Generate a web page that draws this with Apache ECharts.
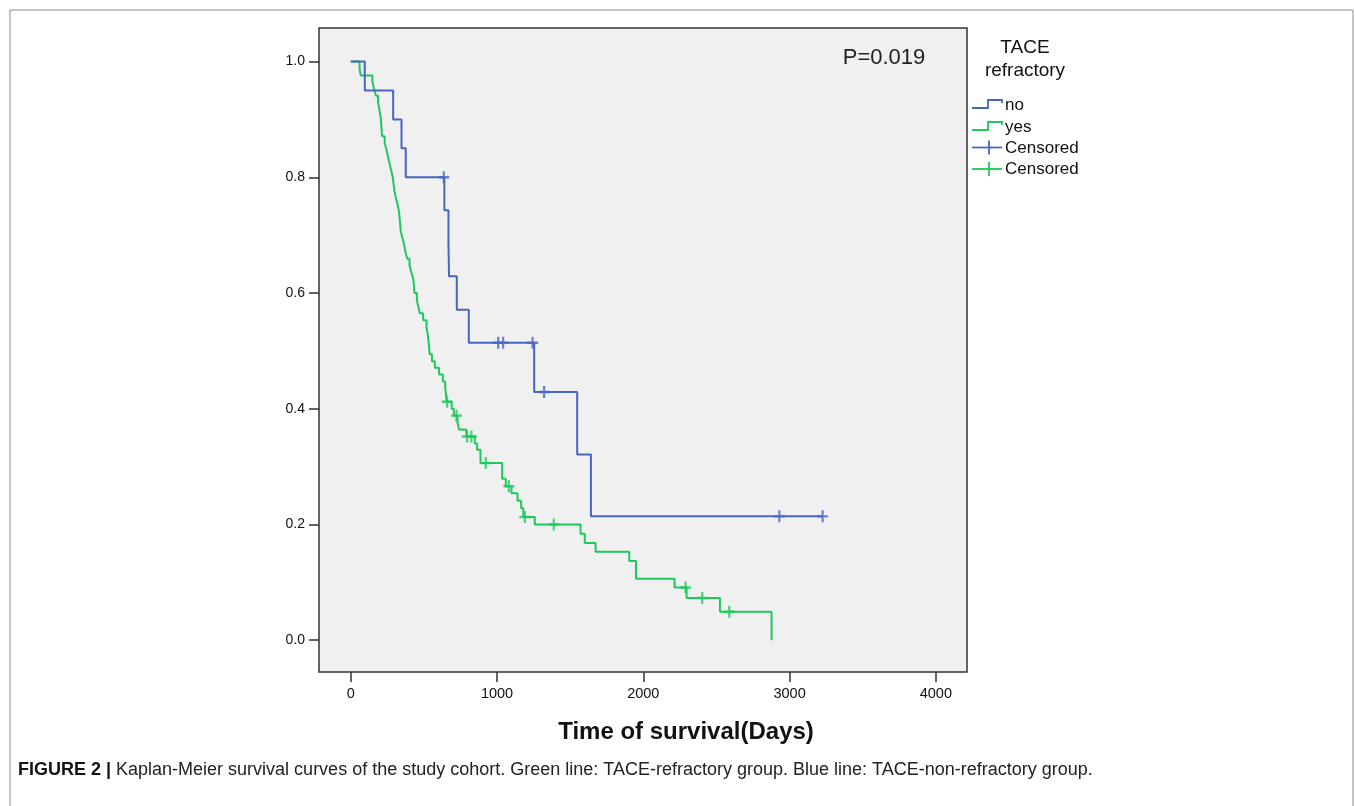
<!DOCTYPE html>
<html>
<head>
<meta charset="utf-8">
<title>Kaplan-Meier survival curves</title>
<script src="https://cdn.jsdelivr.net/npm/echarts@6.0.0/dist/echarts.min.js"></script>
<style>
  html, body { margin: 0; padding: 0; background: #fff; }
  #chart-container { width: 1355px; height: 806px; }
</style>
</head>
<body>
<div id="chart-container"></div>
<script>
// TACE non-refractory (blue) — days / cumulative survival
const blueTime = [0, 96, 290, 347, 376, 640, 668, 672, 725, 807, 1254, 1548, 1642, 3226];
const blueSurv = [1.0, 0.95, 0.90, 0.85, 0.80, 0.743, 0.686, 0.629, 0.571, 0.514, 0.429, 0.321, 0.214, 0.214];
const blueCensTime = [636, 1008, 1042, 1243, 1322, 2930, 3226];
const blueCensSurv = [0.80, 0.514, 0.514, 0.514, 0.429, 0.214, 0.214];

// TACE refractory (green)
const greenTime = [0, 60, 68, 148, 159, 172, 187, 195, 203, 208, 211, 214, 232, 245, 255, 265, 276, 287,
  293, 299, 308, 320, 330, 334, 338, 342, 355, 366, 374, 386, 402, 415, 428, 432, 436, 452, 462, 472,
  495, 518, 526, 531, 536, 540, 555, 575, 604, 630, 646, 651, 656, 690, 705, 730, 740, 790, 848, 864,
  887, 1035, 1060, 1099, 1140, 1165, 1180, 1258, 1571, 1600, 1674, 1904, 1950, 2214, 2296, 2524, 2877];
const greenSurv = [1.0, 0.988, 0.976, 0.965, 0.953, 0.941, 0.929, 0.918, 0.906, 0.894, 0.882, 0.871, 0.859,
  0.847, 0.835, 0.824, 0.812, 0.800, 0.788, 0.776, 0.765, 0.753, 0.741, 0.729, 0.718, 0.706, 0.694, 0.682,
  0.671, 0.659, 0.647, 0.635, 0.624, 0.612, 0.600, 0.588, 0.576, 0.565, 0.553, 0.541, 0.529, 0.518, 0.506,
  0.494, 0.482, 0.471, 0.459, 0.447, 0.435, 0.424, 0.412, 0.400, 0.388, 0.376, 0.364, 0.352, 0.340, 0.329,
  0.306, 0.279, 0.266, 0.254, 0.241, 0.228, 0.213, 0.200, 0.184, 0.168, 0.153, 0.137, 0.106, 0.091, 0.073,
  0.049, 0.0];
const greenCensTime = [659, 723, 796, 825, 923, 1081, 1190, 1388, 2289, 2403, 2588];
const greenCensSurv = [0.412, 0.388, 0.352, 0.352, 0.306, 0.266, 0.213, 0.200, 0.091, 0.073, 0.049];

const xTicks = [0, 1000, 2000, 3000, 4000];
const yTicks = [0, 0.2, 0.4, 0.6, 0.8, 1.0];

const BLUE = "#4766c4";
const GREEN = "#1ec85c";
const FONT = '"Liberation Sans", Arial, sans-serif';
const PLUS = "path://M4,0 h2 v4 h4 v2 h-4 v4 h-2 v-4 h-4 v-2 h4 z";

const zip = (a, b) => a.map((v, i) => [v, b[i]]);

const dom = document.getElementById("chart-container");
const myChart = echarts.init(dom, null, { renderer: "canvas" });

// legend drawn by hand, SPSS style
const stepIcon = (y, color) => ({
  type: "polyline",
  shape: { points: [[972, y + 4], [988, y + 4], [988, y - 4], [1002, y - 4], [1002, y - 1]] },
  style: { stroke: color, lineWidth: 1.8, fill: null }
});
const plusIcon = (y, color) => ([
  { type: "line", shape: { x1: 972, y1: y, x2: 1002, y2: y }, style: { stroke: color, lineWidth: 1.8 } },
  { type: "line", shape: { x1: 989, y1: y - 7, x2: 989, y2: y + 7 }, style: { stroke: color, lineWidth: 1.8 } }
]);
const legendText = (y, txt) => ({
  type: "text",
  style: { text: txt, x: 1005, y: y, font: "17px " + FONT, fill: "#111", textVerticalAlign: "middle" }
});

const option = {
  animation: false,
  grid: {
    left: 319, top: 28, width: 648, height: 644,
    show: true, backgroundColor: "#f0f0f0", borderColor: "#333", borderWidth: 1.5
  },
  xAxis: {
    type: "value", min: -217, max: 4213,
    axisLine: { show: false, onZero: false },
    splitLine: { show: false },
    axisTick: { show: true, customValues: xTicks, length: 10, lineStyle: { color: "#333", width: 1.5 } },
    axisLabel: {
      customValues: xTicks, margin: 14, fontSize: 14.5, color: "#111", fontFamily: FONT,
      formatter: (v) => String(v)
    }
  },
  yAxis: {
    type: "value", min: -0.055, max: 1.058,
    axisLine: { show: false, onZero: false },
    splitLine: { show: false },
    axisTick: { show: true, customValues: yTicks, length: 10, lineStyle: { color: "#333", width: 1.5 } },
    axisLabel: {
      customValues: yTicks, margin: 14, fontSize: 14, color: "#111", fontFamily: FONT,
      formatter: (v) => v.toFixed(1)
    }
  },
  series: [
    {
      name: "no", type: "line", step: "end", data: zip(blueTime, blueSurv),
      showSymbol: false, lineStyle: { color: BLUE, width: 2 }, z: 3
    },
    {
      name: "yes", type: "line", step: "end", data: zip(greenTime, greenSurv),
      showSymbol: false, lineStyle: { color: GREEN, width: 2 }, z: 2
    },
    {
      name: "Censored no", type: "scatter", data: zip(blueCensTime, blueCensSurv),
      symbol: PLUS, symbolSize: [11, 12], itemStyle: { color: BLUE }, z: 4
    },
    {
      name: "Censored yes", type: "scatter", data: zip(greenCensTime, greenCensSurv),
      symbol: PLUS, symbolSize: [11, 12], itemStyle: { color: GREEN }, z: 4
    }
  ],
  graphic: [
    // outer figure frame
    { type: "rect", shape: { x: 10, y: 10, width: 1343, height: 810 }, style: { stroke: "#8a8a8a", lineWidth: 1, fill: null } },
    { type: "text", style: { text: "P=0.019", x: 884, y: 58, font: "22px " + FONT, fill: "#222", textAlign: "center", textVerticalAlign: "middle" } },
    { type: "text", style: { text: "TACE", x: 1025, y: 48, font: "19px " + FONT, fill: "#111", textAlign: "center", textVerticalAlign: "middle" } },
    { type: "text", style: { text: "refractory", x: 1025, y: 71, font: "19px " + FONT, fill: "#111", textAlign: "center", textVerticalAlign: "middle" } },
    stepIcon(104, BLUE), legendText(105, "no"),
    stepIcon(126, GREEN), legendText(127, "yes"),
    ...plusIcon(147.5, BLUE), legendText(148, "Censored"),
    ...plusIcon(169, GREEN), legendText(169.5, "Censored"),
    // axis title
    { type: "text", style: { text: "Time of survival(Days)", x: 686, y: 732, font: 'bold 24px ' + FONT, fill: "#111", textAlign: "center", textVerticalAlign: "middle" } },
    // caption
    {
      type: "text",
      style: {
        x: 18, y: 770, textVerticalAlign: "middle",
        text: "{b|FIGURE 2 |} Kaplan-Meier survival curves of the study cohort. Green line: TACE-refractory group. Blue line: TACE-non-refractory group.",
        font: "18px " + FONT, fill: "#222",
        rich: { b: { fontWeight: "bold", fontSize: 18, fontFamily: FONT, fill: "#111" } }
      }
    }
  ]
};

myChart.setOption(option);
window.addEventListener("resize", myChart.resize);
</script>
</body>
</html>
